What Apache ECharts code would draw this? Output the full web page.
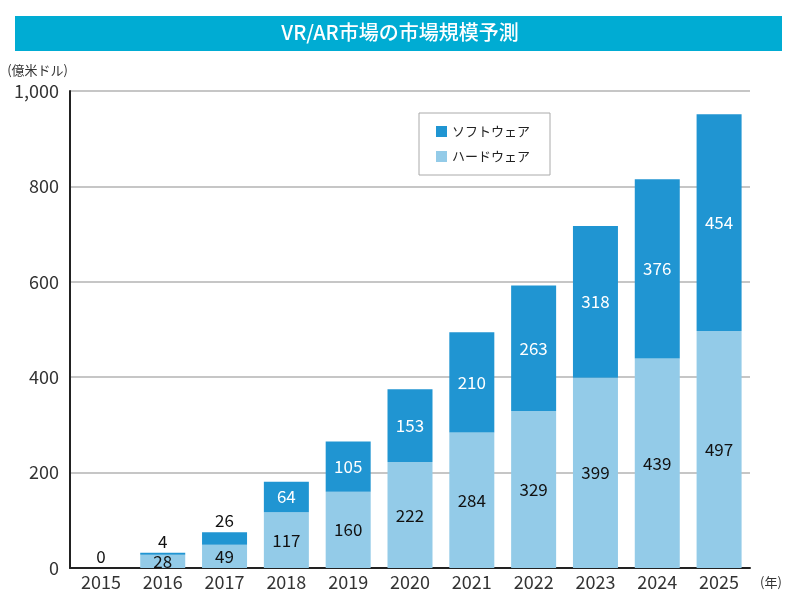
<!DOCTYPE html>
<html><head><meta charset="utf-8">
<script src="https://cdn.jsdelivr.net/npm/echarts@6/dist/echarts.min.js"></script>
<style>html,body{margin:0;padding:0;background:#fff}#c{width:800px;height:611px}</style>
</head><body><div id="c"></div>
<script>
var years = ['2015','2016','2017','2018','2019','2020','2021','2022','2023','2024','2025'];
var hardware = [0, 28, 49, 117, 160, 222, 284, 329, 399, 439, 497];
var software = [0, 4, 26, 64, 105, 153, 210, 263, 318, 376, 454];
var yTicks = [0, 200, 400, 600, 800, 1000];
var titleText = 'VR/AR市場の市場規模予測';
var softName = 'ソフトウェア';
var hardName = 'ハードウェア';

var FONT = '"Noto Sans CJK JP", "Noto Sans", sans-serif';
var SOFT_C = '#2095d2';
var HARD_C = '#93cbe8';
var smallThreshold = 40;

var hwData = hardware.map(function(v, i){
  var d = {value: v};
  if (v === 0) d.label = {show: false};
  return d;
});
var swData = software.map(function(v, i){
  var d = {value: v};
  if (v < smallThreshold) d.label = {position: 'top', color: '#111', distance: 3};
  return d;
});

var chart = echarts.init(document.getElementById('c'));
chart.setOption({
  animation: false,
  textStyle: {fontFamily: FONT},
  graphic: [
    {type: 'rect', shape: {x: 15, y: 16, width: 767, height: 35}, style: {fill: '#00acd3'}},
    {type: 'text', left: 'center', top: 22, style: {text: titleText, fill: '#fff', font: '500 20px ' + FONT}}
  ],
  legend: {
    orient: 'vertical',
    left: 419, top: 113,
    data: [softName, hardName],
    icon: 'rect',
    itemWidth: 11, itemHeight: 11,
    itemGap: 12,
    padding: [12, 20, 12, 17],
    borderColor: '#aaa', borderWidth: 1,
    textStyle: {fontFamily: FONT, fontSize: 13, color: '#222'}
  },
  grid: {left: 70, right: 50, top: 91, bottom: 43},
  xAxis: {
    type: 'category', data: years,
    name: '(年)', nameLocation: 'end', nameGap: 10,
    nameTextStyle: {fontFamily: FONT, fontSize: 13, color: '#333', verticalAlign: 'top', padding: [8, 0, 0, 0]},
    axisLine: {lineStyle: {color: '#222', width: 2}},
    axisTick: {show: false},
    axisLabel: {fontFamily: FONT, fontSize: 18, color: '#333', margin: 5}
  },
  yAxis: {
    type: 'value', min: 0, max: 1000, interval: 200,
    name: '(億米ドル)', nameLocation: 'end', nameGap: 14,
    nameTextStyle: {fontFamily: FONT, fontSize: 13, color: '#333', align: 'right', padding: [0, 2, 0, 0]},
    axisLine: {show: true, lineStyle: {color: '#222', width: 2}},
    axisTick: {show: false},
    splitLine: {lineStyle: {color: '#b3b3b3', width: 1.5}},
    axisLabel: {
      fontFamily: FONT, fontSize: 18, color: '#333', margin: 11,
      formatter: function(v){ return yTicks.indexOf(v) >= 0 ? v.toLocaleString('en-US') : ''; }
    }
  },
  series: [
    {
      name: hardName, type: 'bar', stack: 'total', barWidth: 45,
      data: hwData,
      itemStyle: {color: HARD_C},
      label: {show: true, position: 'inside', color: '#111', fontFamily: FONT, fontSize: 17}
    },
    {
      name: softName, type: 'bar', stack: 'total', barWidth: 45,
      data: swData,
      itemStyle: {color: SOFT_C},
      label: {show: true, position: 'inside', color: '#fff', fontFamily: FONT, fontSize: 17}
    }
  ]
});
</script></body></html>
